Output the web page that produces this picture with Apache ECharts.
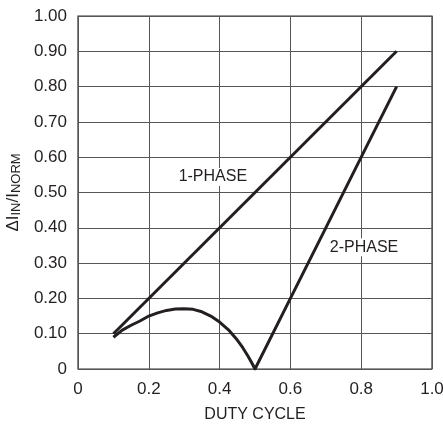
<!DOCTYPE html>
<html>
<head>
<meta charset="utf-8">
<script src="https://cdn.jsdelivr.net/npm/echarts@6/dist/echarts.min.js"></script>
<style>html,body{margin:0;padding:0;background:#fff}#c{width:443px;height:428px}</style>
</head>
<body>
<div id="c"></div>
<script>
const onePhaseX = [0.1, 0.9];
const onePhaseY = [0.1, 0.9];
const twoPhaseX = [0.1, 0.125, 0.15, 0.175, 0.2, 0.225, 0.25, 0.275, 0.3, 0.325, 0.35, 0.375, 0.4, 0.425, 0.45, 0.465, 0.48, 0.49, 0.5, 0.6, 0.7, 0.8, 0.9];
const twoPhaseY = [0.09, 0.11, 0.124, 0.136, 0.15, 0.159, 0.166, 0.17, 0.171, 0.169, 0.162, 0.15, 0.133, 0.111, 0.082, 0.061, 0.037, 0.019, 0, 0.2, 0.4, 0.6, 0.8];
const labelText = ['1-PHASE', '2-PHASE'];
const labelX = [0.381, 0.808];
const labelY = [0.544, 0.345];
const xTicks = ['0', '0.2', '0.4', '0.6', '0.8', '1.0'];
const yTicks = ['0', '0.10', '0.20', '0.30', '0.40', '0.50', '0.60', '0.70', '0.80', '0.90', '1.00'];

const font = '"Liberation Sans", Arial, sans-serif';
const ink = '#231f20';
const zip = (xs, ys) => xs.map((x, i) => [x, ys[i]]);
const chart = echarts.init(document.getElementById('c'), null, {renderer: 'canvas'});
chart.setOption({
  animation: false,
  backgroundColor: '#fff',
  grid: {left: 78, right: 11, top: 16, bottom: 59, show: true, borderColor: '#333', borderWidth: 1.2,
    containLabel: false, outerBoundsMode: 'none'},
  xAxis: {
    type: 'value', min: 0, max: 1, interval: 0.2,
    axisLine: {show: false}, axisTick: {show: false},
    splitLine: {show: true, lineStyle: {color: '#555', width: 1}},
    axisLabel: {margin: 12, fontFamily: font, fontSize: 17, color: ink,
      formatter: v => xTicks[Math.round(v / 0.2)]},
    name: 'DUTY CYCLE', nameLocation: 'middle', nameGap: 38,
    nameTextStyle: {fontFamily: font, fontSize: 16, color: ink}
  },
  yAxis: {
    type: 'value', min: 0, max: 1, interval: 0.1,
    axisLine: {show: false}, axisTick: {show: false},
    splitLine: {show: true, lineStyle: {color: '#555', width: 1}},
    axisLabel: {margin: 11, fontFamily: font, fontSize: 17, color: ink,
      formatter: v => yTicks[Math.round(v / 0.1)]},
    name: '{m|ΔI}{s|IN}{m|/I}{s|NORM}', nameLocation: 'middle', nameRotate: 90, nameGap: 53,
    nameTextStyle: {fontFamily: font, fontSize: 17, color: ink,
      rich: {
        m: {fontFamily: font, fontSize: 17, color: ink},
        s: {fontFamily: font, fontSize: 13, color: ink, verticalAlign: 'bottom', padding: [6, 0, 0, 0]}
      }}
  },
  series: [
    {type: 'line', data: zip(onePhaseX, onePhaseY), showSymbol: false, lineStyle: {color: ink, width: 3}, z: 3},
    {type: 'line', data: zip(twoPhaseX, twoPhaseY), showSymbol: false, smooth: false, lineStyle: {color: ink, width: 3, join: 'round'}, z: 3},
    {type: 'scatter', symbolSize: 1, itemStyle: {color: 'rgba(0,0,0,0)'}, z: 4, silent: true,
      data: labelText.map((t, i) => ({value: [labelX[i], labelY[i]], name: t})),
      label: {show: true, position: 'inside', formatter: p => p.name, fontFamily: font, fontSize: 16, color: ink,
        opacity: 1, backgroundColor: '#fff', padding: [1, 2]}}
  ]
});
</script>
</body>
</html>
